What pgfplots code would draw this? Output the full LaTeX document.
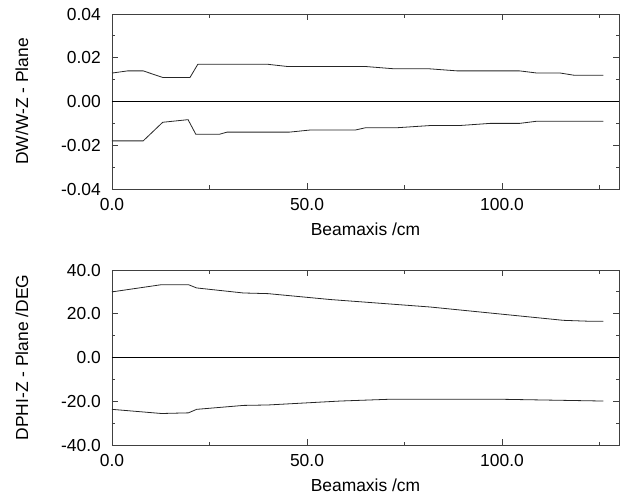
\documentclass[border=0pt]{standalone}
\usepackage{pgfplots}
\pgfplotsset{compat=1.18}
\usepackage{fontspec}
\setmainfont{Liberation Sans}

\pgfplotsset{
  beam/.style={
    scale only axis, width=507bp, height=175bp,
    xmin=0, xmax=130,
    xtick={0,50,100}, minor xtick={25,75,125},
    tick align=inside, major tick length=6bp, minor tick length=3.5bp,
    axis line style={black!75, line width=0.8bp},
    every tick/.style={black!75, line width=0.8bp},
    /pgf/number format/assume math mode=true,
    tick label style={font=\fontsize{17.5}{20}\selectfont, inner sep=0pt},
    label style={font=\fontsize{17.5}{20}\selectfont, inner sep=0pt},
    xticklabel style={yshift=-9bp, /pgf/number format/.cd, fixed, fixed zerofill, precision=1},
    yticklabel style={xshift=-11bp},
    scaled ticks=false,
    xlabel={Beamaxis /cm},
    xlabel style={at={([yshift=-34bp]axis description cs:0.5,0)}, anchor=north},
    ylabel style={at={([xshift=-90bp]axis description cs:0,0.5)}, anchor=center, rotate=0},
  },
  curve/.style={black!85, line width=0.8bp, mark=none},
  zero/.style={black, line width=1.3bp, mark=none},
}

\begin{document}
\begin{tikzpicture}
\path[use as bounding box] (-112bp,-308bp) rectangle (512bp,189bp);

% upper panel
\begin{axis}[beam, at={(0bp,0bp)}, anchor=south west,
  ymin=-0.04, ymax=0.04,
  ytick={-0.04,-0.02,0,0.02,0.04}, minor ytick={-0.03,-0.01,0.01,0.03},
  yticklabel style={/pgf/number format/.cd, fixed, fixed zerofill, precision=2},
  ylabel={DW/W-Z - Plane}]
\addplot[zero] coordinates {(0,0) (130,0)};
\addplot[curve] coordinates {
  (0,0.013) (4,0.014) (8,0.014) (13,0.011) (20,0.011) (22,0.017) (40,0.017)
  (45,0.016) (65,0.016) (72,0.015) (81,0.015) (88.5,0.014) (104.5,0.014)
  (109,0.013) (115,0.013) (118.5,0.012) (126,0.012)};
\addplot[curve] coordinates {
  (0,-0.018) (8,-0.018) (13,-0.0095) (19.5,-0.0083) (21.5,-0.015) (27.5,-0.015)
  (29.5,-0.014) (45.5,-0.014) (51,-0.013) (62.5,-0.013) (65,-0.012) (73,-0.012)
  (81.5,-0.011) (89,-0.011) (97,-0.010) (104.5,-0.010) (109,-0.009) (126,-0.009)};
\end{axis}

% lower panel
\begin{axis}[beam, at={(0bp,-256bp)}, anchor=south west,
  ymin=-40, ymax=40,
  ytick={-40,-20,0,20,40}, minor ytick={-30,-10,10,30},
  yticklabel style={/pgf/number format/.cd, fixed, fixed zerofill, precision=1},
  ylabel={DPHI-Z - Plane /DEG}]
\addplot[zero] coordinates {(0,0) (130,0)};
\addplot[curve] coordinates {
  (0,30.0) (12.7,33.3) (19.6,33.3) (21.7,31.8) (33.7,29.5) (40,29.2)
  (56,26.5) (81.5,23.1) (100,19.8) (115.7,17.0) (122,16.6) (126,16.6)};
\addplot[curve] coordinates {
  (0,-23.7) (12.7,-25.6) (19.6,-25.3) (21.7,-23.7) (33.7,-21.9) (40,-21.7)
  (58.5,-19.9) (71,-19.1) (100,-19.1) (126,-19.9)};
\end{axis}
\end{tikzpicture}
\end{document}
